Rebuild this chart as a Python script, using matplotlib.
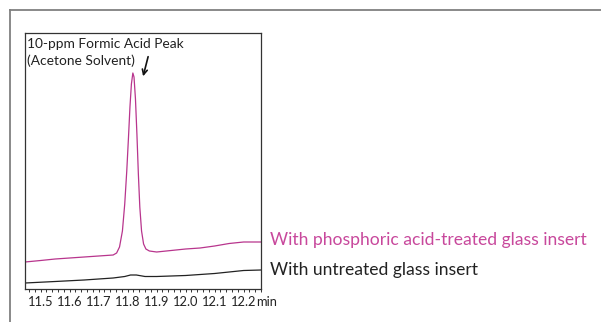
import matplotlib.pyplot as plt
from matplotlib.lines import Line2D
from matplotlib.ticker import FixedLocator, MultipleLocator

# Retention time (min) and detector response (arbitrary units)
TIME_TREATED = [11.446, 11.50, 11.55, 11.60, 11.65, 11.70, 11.75, 11.762, 11.772,
                11.782, 11.790, 11.797, 11.803, 11.808, 11.813, 11.818, 11.822,
                11.827, 11.832, 11.837, 11.842, 11.848, 11.855, 11.863, 11.875,
                11.90, 11.95, 12.00, 12.05, 12.10, 12.15, 12.20, 12.26]
SIGNAL_TREATED = [27, 28.5, 30, 31, 32, 33, 34, 36, 42,
                  58, 85, 118, 152, 182, 205, 216, 212,
                  190, 155, 115, 82, 58, 45, 40, 38,
                  37, 38.5, 40, 41, 43, 45.5, 47, 47]

TIME_UNTREATED = [11.446, 11.55, 11.65, 11.75, 11.79, 11.81, 11.83, 11.86,
                  11.90, 12.00, 12.10, 12.20, 12.26]
SIGNAL_UNTREATED = [6, 7.5, 9, 11, 12.5, 14, 14, 12.5,
                    12.5, 13.5, 15.5, 18.5, 19]

MAJOR_TICKS = [11.5, 11.6, 11.7, 11.8, 11.9, 12.0, 12.1, 12.2]
TICK_LABELS = ["11.5", "11.6", "11.7", "11.8", "11.9", "12.0", "12.1", "12.2"]

LABEL_TREATED = "With phosphoric acid-treated glass insert"
LABEL_UNTREATED = "With untreated glass insert"
PEAK_NOTE = "10-ppm Formic Acid Peak\n(Acetone Solvent)"

PINK_LINE = "#b8358d"
PINK_TEXT = "#c8489c"
FONT = ["Lato", "DejaVu Sans"]

W, H = 601, 322
fig = plt.figure(figsize=(W / 100, H / 100), dpi=100)

# open outer frame (left and top edges only)
fig.add_artist(Line2D([9.5 / W, 9.5 / W], [0, 1 - 9.5 / H], color="#808080", lw=1.3))
fig.add_artist(Line2D([9.5 / W, 1], [1 - 9.5 / H, 1 - 9.5 / H], color="#808080", lw=1.3))

ax = fig.add_axes([25 / W, 1 - 289 / H, 236 / W, 256 / H])
ax.plot(TIME_TREATED, SIGNAL_TREATED, color=PINK_LINE, lw=0.9)
ax.plot(TIME_UNTREATED, SIGNAL_UNTREATED, color="#222222", lw=0.9)

ax.set_xlim(11.446, 12.26)
ax.set_ylim(0, 256)
ax.set_yticks([])
ax.xaxis.set_major_locator(FixedLocator(MAJOR_TICKS))
ax.xaxis.set_minor_locator(MultipleLocator(0.02))
ax.set_xticklabels(TICK_LABELS, fontfamily=FONT, fontsize=9.3, color="#222222")
ax.tick_params(axis="x", which="both", direction="out", length=2.2, width=0.7,
               color="#333333", pad=2.5)
for s in ax.spines.values():
    s.set_color("#333333")
    s.set_linewidth(0.9)

fig.text(256.5 / W, 1 - 302 / H, "min", fontfamily=FONT, fontsize=9.3,
         color="#222222", va="center", ha="left")

ax.text(0.008, 0.982, PEAK_NOTE, transform=ax.transAxes, fontfamily=FONT,
        fontsize=9.9, color="#222222", va="top", ha="left", linespacing=1.45)
ax.annotate("", xy=(11.851, 210), xytext=(11.873, 235),
            arrowprops=dict(arrowstyle="->", color="#111111", lw=1.2,
                            mutation_scale=9))

fig.text(270 / W, 1 - 240 / H, LABEL_TREATED, fontfamily=FONT, fontsize=12.6,
         color=PINK_TEXT, va="center", ha="left")
fig.text(270 / W, 1 - 270 / H, LABEL_UNTREATED, fontfamily=FONT, fontsize=12.6,
         color="#222222", va="center", ha="left")

fig.savefig("out.png", dpi=100)
